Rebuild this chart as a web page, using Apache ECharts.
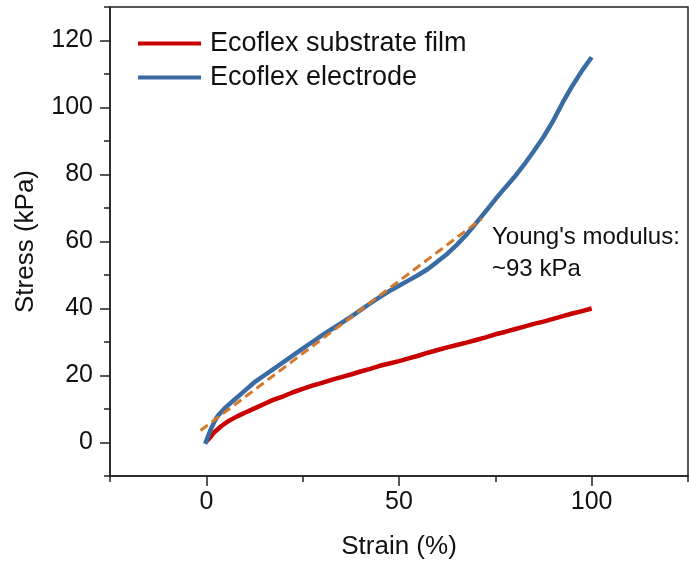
<!DOCTYPE html>
<html lang="en">
<head>
<meta charset="UTF-8">
<title>Stress-strain</title>
<script src="https://cdn.jsdelivr.net/npm/echarts@6/dist/echarts.min.js"></script>
<style>
  html, body { margin: 0; padding: 0; background: #fff; }
  #main { width: 689px; height: 569px; }
</style>
</head>
<body>
<div id="main"></div>
<script type="text/javascript">
// values: strain (%) and stress (kPa)
var substrateStrain = [0, 1, 2, 4, 6, 8, 10, 12.5, 15, 17.5, 20, 22.5, 25, 27.5, 30, 32.5, 35, 37.5, 40, 42.5, 45, 47.5, 50, 52.5, 55, 57.5, 60, 62.5, 65, 67.5, 70, 72.5, 75, 77.5, 80, 82.5, 85, 87.5, 90, 92.5, 95, 97.5, 100];
var substrateStress = [0.3, 1.5, 3, 5, 6.6, 7.8, 8.9, 10.2, 11.5, 12.8, 13.8, 15, 16, 17, 17.8, 18.7, 19.5, 20.3, 21.2, 22, 22.9, 23.6, 24.3, 25.1, 25.9, 26.8, 27.6, 28.4, 29.1, 29.8, 30.6, 31.4, 32.3, 33, 33.8, 34.6, 35.4, 36.1, 36.9, 37.7, 38.5, 39.2, 40];

var electrodeStrain = [-0.3, 1, 2, 3, 5, 7.5, 10, 12.5, 15, 17.5, 20, 22.5, 25, 27.5, 30, 32.5, 35, 37.5, 40, 42.5, 45, 47.5, 50, 52.5, 55, 57.5, 60, 62.5, 65, 67.5, 70, 72.5, 75, 77.5, 80, 82.5, 85, 87.5, 90, 92.5, 95, 97.5, 100];
var electrodeStress = [-0.4, 3.5, 6, 8, 10.5, 13, 15.5, 18, 20, 22, 24, 26, 28, 30, 32, 33.8, 35.6, 37.5, 39.5, 41.5, 43.4, 45.2, 46.8, 48.4, 50, 51.8, 54, 56.3, 59, 62, 65.5, 69, 72.6, 76, 79.3, 83, 87, 91.2, 96, 101.5, 106.5, 111, 115];

// linear fit (dashed)
var fitStrain = [-1.5, 71.5];
var fitStress = [3.6, 66.8];

var xMajor = [0, 50, 100];
var xMinor = [-25, 25, 75, 125];
var yMajor = [0, 20, 40, 60, 80, 100, 120];
var yMinor = [-10, 10, 30, 50, 70, 90, 110, 130];

function pairs(xs, ys) {
    return xs.map(function (x, i) { return [x, ys[i]]; });
}

var font = 'Liberation Sans, Arial, sans-serif';
var axisColor = '#222';

function xAxisDef(major) {
    return {
        type: 'value', min: -25, max: 125, position: 'bottom',
        name: major ? 'Strain (%)' : '',
        nameLocation: 'middle', nameGap: 58,
        nameTextStyle: { fontFamily: font, fontSize: 26, color: '#111' },
        axisLine: { show: major, onZero: false, lineStyle: { color: axisColor, width: 1.5 } },
        axisTick: { show: true, inside: false, length: major ? 10 : 6,
            customValues: major ? xMajor : xMinor,
            lineStyle: { color: axisColor, width: 1.5 } },
        axisLabel: { show: major, customValues: xMajor, margin: 14,
            fontFamily: font, fontSize: 25, color: '#111' },
        splitLine: { show: false }
    };
}

function yAxisDef(major) {
    return {
        type: 'value', min: -10, max: 130, position: 'left',
        name: major ? 'Stress (kPa)' : '',
        nameLocation: 'middle', nameGap: 71,
        nameTextStyle: { fontFamily: font, fontSize: 26, color: '#111' },
        axisLine: { show: major, onZero: false, lineStyle: { color: axisColor, width: 1.5 } },
        axisTick: { show: true, inside: false, length: major ? 10 : 6,
            customValues: major ? yMajor : yMinor,
            lineStyle: { color: axisColor, width: 1.5 } },
        axisLabel: { show: major, customValues: yMajor, margin: 17,
            fontFamily: font, fontSize: 25, color: '#111' },
        splitLine: { show: false }
    };
}

var chart = echarts.init(document.getElementById('main'));
chart.setOption({
    animation: false,
    grid: { left: 110, right: 1, top: 7, bottom: 93, show: true,
        borderColor: axisColor, borderWidth: 1.5, backgroundColor: 'transparent' },
    legend: {
        orient: 'vertical', left: 138, top: 30, padding: 0,
        data: ['Ecoflex substrate film', 'Ecoflex electrode'],
        icon: 'rect', itemWidth: 63, itemHeight: 4, itemGap: 7,
        textStyle: { fontFamily: font, fontSize: 27, lineHeight: 26, color: '#111',
            padding: [0, 0, 0, 4] }
    },
    xAxis: [xAxisDef(true), xAxisDef(false)],
    yAxis: [yAxisDef(true), yAxisDef(false)],
    graphic: [{
        type: 'text', left: 492, top: 221,
        style: { text: "Young's modulus:\n~93 kPa", font: '24px ' + font,
            fill: '#111', lineHeight: 32 }
    }],
    series: [{
        name: 'Ecoflex substrate film', type: 'line', showSymbol: false, symbol: 'none',
        data: pairs(substrateStrain, substrateStress),
        lineStyle: { color: '#c80000', width: 4.5 }, itemStyle: { color: '#c80000' }
    }, {
        name: 'Ecoflex electrode', type: 'line', showSymbol: false, symbol: 'none',
        data: pairs(electrodeStrain, electrodeStress),
        lineStyle: { color: '#3a6ca3', width: 4.5 }, itemStyle: { color: '#3a6ca3' }
    }, {
        name: 'fit', type: 'line', showSymbol: false, symbol: 'none',
        data: pairs(fitStrain, fitStress), z: 3,
        lineStyle: { color: '#d4782c', width: 3, type: [9, 5] }
    }]
});
</script>
</body>
</html>
